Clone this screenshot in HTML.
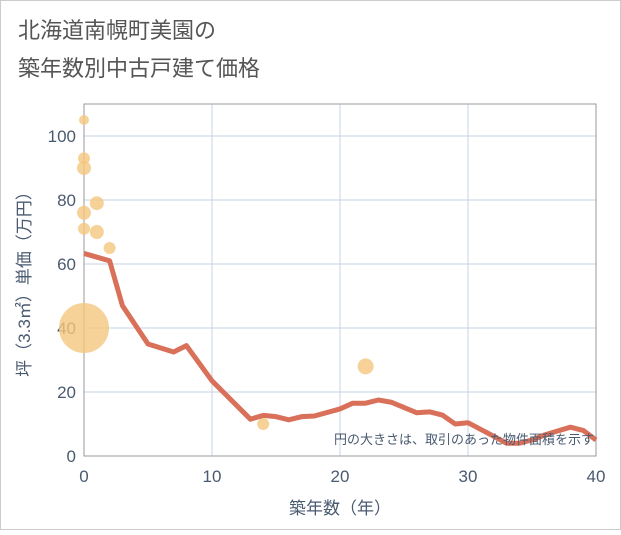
<!DOCTYPE html>
<html><head><meta charset="utf-8"><style>
body{margin:0;background:#fff;}
svg text{font-family:"Liberation Sans","Noto Sans CJK JP",sans-serif;}
</style></head><body>
<svg width="621" height="530" xmlns="http://www.w3.org/2000/svg">
<rect x="0.5" y="0.5" width="620" height="529" fill="#fff" stroke="#ccc"/>
<text x="18" y="38" font-size="22" fill="#555">北海道南幌町美園の</text>
<text x="18" y="76" font-size="22" fill="#555">築年数別中古戸建て価格</text>
<g id="plot"></g>
</svg>
<script>
const years=[0,2,3,5,7,8,10,11,13,14,15,16,17,18,20,21,22,23,24,26,27,28,29,30,31,32,33,34,35,36,37,38,39,40];
const prices=[63.3,61,47,35,32.5,34.5,23.5,19.5,11.5,12.7,12.3,11.3,12.3,12.5,14.7,16.5,16.5,17.5,16.8,13.5,13.8,12.8,10,10.4,8.3,6.2,4,4,5,6.6,7.8,9,8,5];
const bubbleYears=[0,0,0,1,0,0,1,2,0,14,22];
const bubbleValues=[105,93,90,79,76,71,70,65,40,10,28];
const bubbleRadii=[5,6,7,7,7,6,7,6,25,6,8];
const xTicks=[0,10,20,30,40];
const yTicks=[0,20,40,60,80,100];
const L=84,R=596,T=104,B=456;
const sx=v=>L+(v/40)*(R-L);
const sy=v=>B-v*3.2;
const g=document.getElementById('plot');
const NS='http://www.w3.org/2000/svg';
function mk(t,a){const e=document.createElementNS(NS,t);for(const k in a)e.setAttribute(k,a[k]);g.appendChild(e);return e;}
xTicks.forEach(v=>{const l=mk('line',{x1:sx(v),x2:sx(v),y1:T,y2:B,stroke:'#c5d3e3','stroke-width':1});


const t=mk('text',{x:sx(v),y:B+26,'font-size':17,fill:'#4a5a70','text-anchor':'middle'});t.textContent=v;

});
yTicks.forEach(v=>{const l=mk('line',{x1:L,x2:R,y1:sy(v),y2:sy(v),stroke:'#c5d3e3','stroke-width':1});


const t=mk('text',{x:L-8,y:sy(v)+6,'font-size':17,fill:'#4a5a70','text-anchor':'end'});t.textContent=v;

});
const ax=mk('rect',{x:L,y:T,width:R-L,height:B-T,fill:'none',stroke:'#999','stroke-width':1});


bubbleYears.forEach((y,i)=>{const c=mk('circle',{cx:sx(y),cy:sy(bubbleValues[i]),r:bubbleRadii[i],fill:'#f5c77e','fill-opacity':0.8});

});
const ln=mk('polyline',{points:years.map((y,i)=>sx(y)+','+sy(prices[i])).join(' '),fill:'none',stroke:'#d9705a','stroke-width':5,'stroke-linejoin':'round'});


const n=mk('text',{x:594,y:444,'font-size':13,fill:'#4a5a70','text-anchor':'end'});n.textContent='円の大きさは、取引のあった物件面積を示す';


const xt=mk('text',{x:340,y:514,'font-size':17,fill:'#4a5a70','text-anchor':'middle'});xt.textContent='築年数（年）';


const yt=mk('text',{x:0,y:0,'font-size':17,fill:'#4a5a70','text-anchor':'middle',transform:`translate(30,${(T+B)/2}) rotate(-90)`});yt.textContent='坪（3.3㎡）単価（万円）';


</script>
</body></html>
